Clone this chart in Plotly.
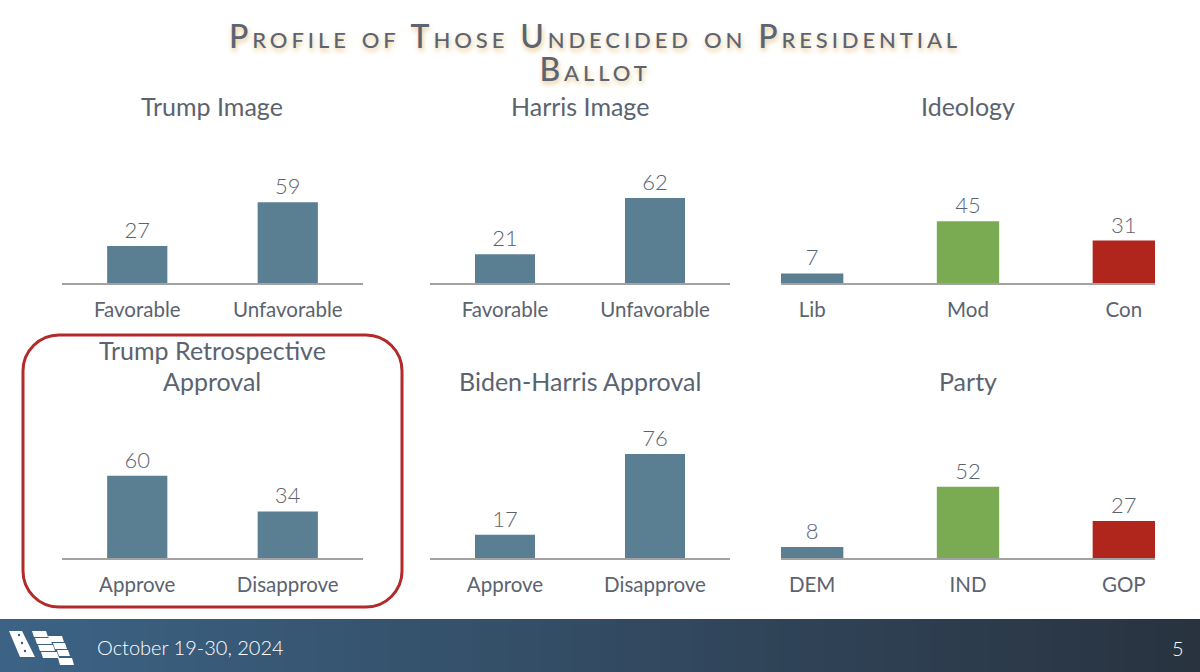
import plotly.graph_objects as go

# ---------------- data ----------------
trump_image_cats = ["Favorable", "Unfavorable"]
trump_image_vals = [27, 59]
harris_image_cats = ["Favorable", "Unfavorable"]
harris_image_vals = [21, 62]
ideology_cats = ["Lib", "Mod", "Con"]
ideology_vals = [7, 45, 31]
retro_cats = ["Approve", "Disapprove"]
retro_vals = [60, 34]
bh_cats = ["Approve", "Disapprove"]
bh_vals = [17, 76]
party_cats = ["DEM", "IND", "GOP"]
party_vals = [8, 52, 27]

title_lines = ["Profile of Those Undecided on Presidential", "Ballot"]
panel_titles = ["Trump Image", "Harris Image", "Ideology",
                "Trump Retrospective", "Approval", "Biden-Harris Approval", "Party"]

# ---------------- style ----------------
W, H = 1200, 672
BLUE = "#5a7e92"
GREEN = "#7aab52"
RED = "#b1261c"
TXT = "#5b6370"
FONT = "Lato"

def px(x):
    return x / W

def py(y):
    return 1 - y / H

fig = go.Figure()

panels = [
    (trump_image_cats, trump_image_vals, [BLUE, BLUE], (62, 363), 283),
    (harris_image_cats, harris_image_vals, [BLUE, BLUE], (430, 730), 283),
    (ideology_cats, ideology_vals, [BLUE, GREEN, RED], (781, 1155), 283),
    (retro_cats, retro_vals, [BLUE, BLUE], (62, 363), 558),
    (bh_cats, bh_vals, [BLUE, BLUE], (430, 730), 558),
    (party_cats, party_vals, [BLUE, GREEN, RED], (781, 1155), 558),
]

layout_axes = {}
for i, (cats, vals, cols, (x0, x1), base) in enumerate(panels, start=1):
    sfx = "" if i == 1 else str(i)
    fig.add_trace(go.Bar(
        x=cats, y=vals, marker=dict(color=cols, line=dict(width=0)),
        width=0.4, text=[str(v) for v in vals], textposition="outside",
        textfont=dict(family=FONT, size=22, color=TXT, weight=300),
        cliponaxis=False, xaxis="x" + sfx, yaxis="y" + sfx,
        showlegend=False, hoverinfo="skip",
    ))
    n = len(cats)
    rng = [-0.5, 1.5] if n == 2 else [-0.2, 2.2]
    layout_axes["xaxis" + sfx] = dict(
        domain=[px(x0), px(x1)], range=rng, anchor="y" + sfx,
        showline=True, linecolor="#a2a2a2", linewidth=2,
        showgrid=False, zeroline=False, ticks="",
        tickfont=dict(family=FONT, size=20.5, color=TXT),
        ticklabelstandoff=7, fixedrange=True,
    )
    layout_axes["yaxis" + sfx] = dict(
        domain=[py(base), py(base - 137)], range=[0, 100], anchor="x" + sfx,
        visible=False, fixedrange=True,
    )

fig.update_layout(**layout_axes)

annotations = []
# Main title (two tightly spaced lines in one text block)
title_text = "<br>".join(
    "<span style='font-size:32px;letter-spacing:3.9px'>%s</span>" % ln for ln in title_lines)
annotations.append(dict(
    x=px(595), y=py(51.5), xref="paper", yref="paper", xanchor="center", yanchor="middle",
    text=title_text, showarrow=False,
    font=dict(family=FONT, size=25.5, color="#5c6472", variant="small-caps", weight=500,
              shadow="1px 3px 5px rgba(222,180,100,0.75)"),
    align="center",
))
# Panel titles
title_pos = [(212, 106), (580, 106), (968, 106), (212, 350), (212, 381), (580, 381), (968, 381)]
for t, (tx, ty) in zip(panel_titles, title_pos):
    annotations.append(dict(
        x=px(tx), y=py(ty), xref="paper", yref="paper", xanchor="center", yanchor="middle",
        text=t, showarrow=False, align="center",
        font=dict(family=FONT, size=25, color=TXT),
    ))
# Footer text
annotations.append(dict(
    x=px(95), y=py(647), xref="paper", yref="paper", xanchor="left", yanchor="middle",
    text="October 19-30, 2024", showarrow=False,
    font=dict(family=FONT, size=20, color="white", weight=300),
))
annotations.append(dict(
    x=px(1186), y=py(648), xref="paper", yref="paper", xanchor="right", yanchor="middle",
    text="5", showarrow=False,
    font=dict(family=FONT, size=20, color="white", weight=300),
))

shapes = []
# Footer gradient band
c0 = (60, 99, 133)
c1 = (41, 51, 64)
steps = 80
for k in range(steps):
    t = k / (steps - 1)
    col = tuple(int(round(c0[j] + (c1[j] - c0[j]) * t)) for j in range(3))
    shapes.append(dict(
        type="rect", xref="paper", yref="paper",
        x0=k / steps, x1=(k + 1) / steps + 0.002, y0=0, y1=py(619),
        fillcolor="rgb(%d,%d,%d)" % col, line=dict(width=0), layer="below",
    ))

# Logo
def poly(pts, color="white"):
    d = "M " + " L ".join("%f,%f" % (px(a), py(b)) for a, b in pts) + " Z"
    return dict(type="path", xref="paper", yref="paper", path=d,
                fillcolor=color, line=dict(width=0))

shapes.append(poly([(9, 631), (22, 631), (35, 657), (20, 657)]))
for (sx, sy) in [(19, 635), (22, 643), (25, 651)]:
    shapes.append(dict(type="circle", xref="paper", yref="paper",
                       x0=px(sx - 1.2), x1=px(sx + 1.2), y0=py(sy + 1.2), y1=py(sy - 1.2),
                       fillcolor="#3a5c7b", line=dict(width=0)))
stripes = [
    [(32, 631), (46, 631), (48, 637), (34, 637)],
    [(35, 638), (50, 638), (52, 644), (37, 644)],
    [(48, 636), (62, 636), (64, 642), (50, 642)],
    [(38, 645), (53, 645), (55, 651), (40, 651)],
    [(53, 643), (65, 643), (67, 649), (55, 649)],
    [(41, 652), (57, 652), (59, 658), (43, 658)],
    [(57, 650), (68, 650), (70, 656), (59, 656)],
    [(58, 658), (72, 658), (74, 665), (60, 665)],
]
for s in stripes:
    shapes.append(poly(s))

# Rounded highlight box
x0, x1, y0, y1, r = 23, 402, 335, 607, 36
k = 0.5523 * r
def P(a, b):
    return "%f,%f" % (px(a), py(b))
path = ("M " + P(x0 + r, y0) + " L " + P(x1 - r, y0) +
        " C " + P(x1 - r + k, y0) + " " + P(x1, y0 + r - k) + " " + P(x1, y0 + r) +
        " L " + P(x1, y1 - r) +
        " C " + P(x1, y1 - r + k) + " " + P(x1 - r + k, y1) + " " + P(x1 - r, y1) +
        " L " + P(x0 + r, y1) +
        " C " + P(x0 + r - k, y1) + " " + P(x0, y1 - r + k) + " " + P(x0, y1 - r) +
        " L " + P(x0, y0 + r) +
        " C " + P(x0, y0 + r - k) + " " + P(x0 + r - k, y0) + " " + P(x0 + r, y0) + " Z")
shapes.append(dict(type="path", xref="paper", yref="paper", path=path,
                   line=dict(color="#b22a2a", width=3), fillcolor="rgba(0,0,0,0)"))

fig.update_layout(
    width=W, height=H, margin=dict(l=0, r=0, t=0, b=0),
    paper_bgcolor="white", plot_bgcolor="rgba(0,0,0,0)",
    annotations=annotations, shapes=shapes,
    font=dict(family=FONT, color=TXT),
    bargap=0.6,
)

fig.write_html("out.html", config={"displayModeBar": False})
